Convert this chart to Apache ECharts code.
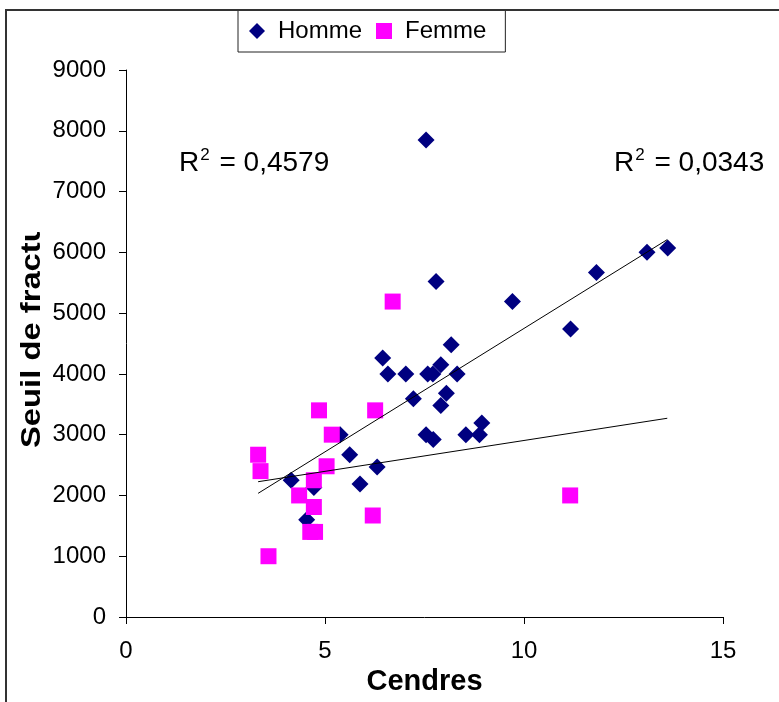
<!DOCTYPE html>
<html><head><meta charset="utf-8">
<script src="https://cdn.jsdelivr.net/npm/echarts@6/dist/echarts.min.js"></script>
<style>html,body{margin:0;padding:0;background:#fff}#c{width:779px;height:702px}</style>
</head><body><div id="c"></div>
<script>
// ---- data ----
const hommeX = [7.54, 13.61, 13.09, 11.82, 7.79, 9.71, 11.17, 8.17, 6.45, 7.91, 6.58, 7.03, 7.58, 7.71, 8.32, 8.05, 7.22, 7.91, 8.94, 7.54, 7.72, 8.54, 8.88, 5.38, 5.62, 6.31, 4.15, 4.72, 5.88, 4.54];
const hommeY = [7850, 6070, 6000, 5670, 5520, 5190, 4740, 4480, 4260, 4150, 4000, 4000, 4000, 4000, 4000, 3680, 3590, 3480, 3190, 3000, 2920, 3000, 3000, 3000, 2670, 2470, 2250, 2130, 2190, 1600];
const femmeX = [6.70, 4.85, 6.26, 5.17, 3.32, 3.38, 5.04, 4.72, 4.35, 4.72, 6.20, 4.63, 4.75, 3.58, 11.16];
const femmeY = [5190, 3400, 3400, 3000, 2670, 2400, 2480, 2250, 2000, 1810, 1670, 1400, 1400, 1000, 2000];
const trendX = [3.32, 13.6];
const hommeTrendY = [2035, 6210];
const femmeTrendY = [2226, 3270];
const seriesNames = ['Homme', 'Femme'];
const r2Values = ['0,4579', '0,0343'];
const xName = 'Cendres';
const yName = 'Seuil de fractu';

const FONT = "'Liberation Sans', Arial, sans-serif";
const pair = (xs, ys) => xs.map((x, i) => [x, ys[i]]);

const chart = echarts.init(document.getElementById('c'), null, {renderer: 'canvas'});
chart.setOption({
  animation: false,
  backgroundColor: '#fff',
  textStyle: {fontFamily: FONT},
  grid: {left: 126, right: 56, top: 70, bottom: 85, containLabel: false, outerBoundsMode: 'none'},
  legend: {
    left: 238, top: 10,
    padding: [9, 19, 9, 11],
    borderColor: '#222', borderWidth: 1,
    itemWidth: 16, itemHeight: 16, itemGap: 14,
    textStyle: {fontFamily: FONT, fontSize: 24, color: '#000', padding: [0, 0, 0, 8]},
    data: [{name: seriesNames[0], icon: 'diamond'}, {name: seriesNames[1], icon: 'rect'}]
  },
  xAxis: {
    type: 'value', min: 0, max: 15, interval: 5,
    name: xName, nameLocation: 'middle', nameGap: 50,
    nameTextStyle: {fontFamily: FONT, fontSize: 29, fontWeight: 'bold', color: '#000'},
    axisLine: {show: true, onZero: false, lineStyle: {color: '#000', width: 1}},
    axisTick: {show: true, length: 7, lineStyle: {color: '#000'}},
    axisLabel: {fontFamily: FONT, fontSize: 24, color: '#000', margin: 22,
      formatter: v => String(v)},
    splitLine: {show: false}
  },
  yAxis: {
    type: 'value', min: 0, max: 9000, interval: 1000,
    axisLine: {show: true, onZero: false, lineStyle: {color: '#000', width: 1}},
    axisTick: {show: true, length: 7, lineStyle: {color: '#000'}},
    axisLabel: {fontFamily: FONT, fontSize: 24, color: '#000', margin: 20,
      formatter: v => String(v)},
    splitLine: {show: false}
  },
  series: [
    {name: seriesNames[0], type: 'scatter', symbol: 'diamond', symbolSize: 17,
     itemStyle: {color: '#000080', opacity: 1}, data: pair(hommeX, hommeY), z: 2},
    {name: seriesNames[1], type: 'scatter', symbol: 'rect', symbolSize: 16,
     itemStyle: {color: '#FF00FF', opacity: 1}, data: pair(femmeX, femmeY), z: 3},
    {name: 'tH', type: 'line', symbol: 'none', silent: true, z: 4,
     lineStyle: {color: '#000', width: 1}, data: pair(trendX, hommeTrendY)},
    {name: 'tF', type: 'line', symbol: 'none', silent: true, z: 4,
     lineStyle: {color: '#000', width: 1}, data: pair(trendX, femmeTrendY)}
  ],
  graphic: [
    {type: 'polyline', shape: {points: [[6, 702], [6, 10], [779, 10]]}, style: {stroke: '#333', lineWidth: 2, fill: null}, z: 10},
    {type: 'text', x: 32, y: 448, rotation: Math.PI / 2, scaleX: 1.17, z: 10,
     style: {text: yName, font: "bold 28px " + FONT, fill: '#000', align: 'left', verticalAlign: 'middle'}},
    {type: 'rect', shape: {x: 12, y: 60, width: 36, height: 172}, style: {fill: '#fff'}, z: 11},
    {type: 'text', x: 179, y: 163, z: 10,
     style: {text: '{a|R}{s|2}{a| = ' + r2Values[0] + '}', verticalAlign: 'middle',
       rich: {a: {font: "28px " + FONT, fill: '#000'}, s: {font: "17px " + FONT, fill: '#000', padding: [0, 2, 16, 1]}}}},
    {type: 'text', x: 614, y: 163, z: 10,
     style: {text: '{a|R}{s|2}{a| = ' + r2Values[1] + '}', verticalAlign: 'middle',
       rich: {a: {font: "28px " + FONT, fill: '#000'}, s: {font: "17px " + FONT, fill: '#000', padding: [0, 2, 16, 1]}}}}
  ]
});
</script></body></html>
